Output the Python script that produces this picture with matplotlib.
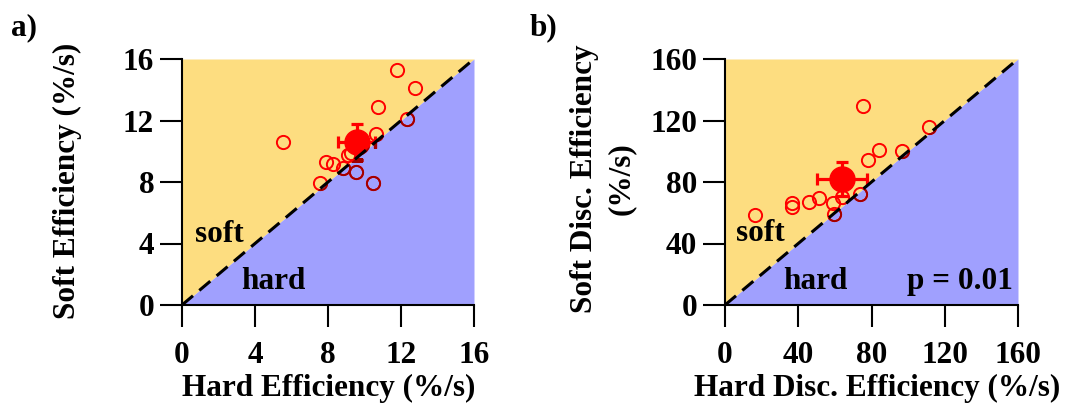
import matplotlib
matplotlib.use("Agg")
import matplotlib.pyplot as plt
from matplotlib.patches import Polygon

plt.rcParams['font.family'] = ['Liberation Serif', 'DejaVu Serif']
plt.rcParams['font.weight'] = 'bold'

# panel a: efficiency per subject (%/s)
hard_a = [11.76, 12.77, 10.72, 12.31, 5.52, 10.63, 9.11, 9.24, 7.87, 8.29, 8.84, 9.52, 7.56, 10.48]
soft_a = [15.28, 14.13, 12.86, 12.08, 10.58, 11.12, 9.76, 9.91, 9.28, 9.17, 8.89, 8.67, 7.91, 7.96]
mean_a = (9.57, 10.58)
err_a = (1.0, 1.17)
ticks_a = [0, 4, 8, 12, 16]

# panel b: discrimination efficiency per subject (%/s)
hard_b = [75.5, 111.6, 84.3, 96.5, 78.0, 16.4, 36.8, 36.8, 45.6, 51.4, 59.2, 59.7, 63.7, 73.7]
soft_b = [129.6, 116.0, 100.8, 100.4, 94.3, 58.5, 66.1, 63.9, 67.2, 69.8, 66.1, 59.0, 70.5, 72.0]
mean_b = (64.0, 81.7)
err_b = (13.7, 11.0)
ticks_b = [0, 40, 80, 120, 160]

YELLOW = '#FDDD80'
BLUE = '#A0A0FE'
RED = '#FF0000'
DARK = '#A00000'  # red seen through the blue region
FS = 22.5


def draw_panel(ax, hard, soft, mean, err, ticks):
  lim = ticks[-1]
  ax.fill_between([0, lim], [0, lim], lim, color=YELLOW, lw=0, zorder=0)
  ax.fill_between([0, lim], 0, [0, lim], color=BLUE, lw=0, zorder=0)

  for col in (RED, DARK):
    pts, = ax.plot(hard, soft, 'o', mfc='none', mec=col, ms=9.5, mew=1.4, zorder=2)
    eb = ax.errorbar(mean[0], mean[1], xerr=err[0], yerr=err[1], fmt='o',
                     color=col, ms=18, elinewidth=2.3, capsize=4.5,
                     capthick=2.3, zorder=3)
    if col == DARK:
      # only keep the darker copy below the diagonal
      tri = Polygon([(0, 0), (lim, 0), (lim, lim)], transform=ax.transData)
      for art in [pts, eb[0], *eb[1], *eb[2]]:
        art.set_clip_path(tri)

  ax.plot([0, lim], [0, lim], color='k', lw=2.2, ls='--', dashes=(4.7, 2.7),
          zorder=4)

  ax.set_xlim(0, lim)
  ax.set_ylim(0, lim)
  ax.set_xticks(ticks)
  ax.set_yticks(ticks)
  ax.spines['top'].set_visible(False)
  ax.spines['right'].set_visible(False)
  for s in ('left', 'bottom'):
    ax.spines[s].set_linewidth(1.5)
  ax.tick_params(direction='out', length=16, width=1.5, labelsize=FS)
  ax.tick_params(axis='x', pad=10)
  ax.tick_params(axis='y', pad=4)


fig = plt.figure(figsize=(10.83, 4.05), dpi=100)
W, H = 1083.0, 405.0

axA = fig.add_axes([182 / W, 1 - 305 / H, 292 / W, 246 / H])
axB = fig.add_axes([725 / W, 1 - 305 / H, 293 / W, 246 / H])

draw_panel(axA, hard_a, soft_a, mean_a, err_a, ticks_a)
draw_panel(axB, hard_b, soft_b, mean_b, err_b, ticks_b)

axA.text(2.03, 4.6, 'soft', fontsize=FS, ha='center', va='center', zorder=5)
axA.text(4.99, 1.5, 'hard', fontsize=FS, ha='center', va='center', zorder=5)
axB.text(19.1, 46.8, 'soft', fontsize=FS, ha='center', va='center', zorder=5)
axB.text(49.2, 15, 'hard', fontsize=FS, ha='center', va='center', zorder=5)
axB.text(128.5, 15, 'p = 0.01', fontsize=FS, ha='center', va='center', zorder=5)

# axis titles
fig.text(329 / W, 1 - 388 / H, 'Hard Efficiency (%/s)', fontsize=FS,
         ha='center', va='center')
fig.text(877 / W, 1 - 388 / H, 'Hard Disc. Efficiency (%/s)', fontsize=FS,
         ha='center', va='center')
fig.text(67 / W, 1 - 181 / H, 'Soft Efficiency (%/s)', fontsize=FS,
         rotation=90, ha='center', va='center')
fig.text(603 / W, 1 - 179 / H, 'Soft Disc. Efficiency\n(%/s)', fontsize=FS,
         rotation=90, ha='center', va='center', multialignment='center',
         linespacing=1.35)

fig.text(24 / W, 1 - 28 / H, 'a)', fontsize=FS, ha='center', va='center')
fig.text(543 / W, 1 - 28 / H, 'b)', fontsize=FS, ha='center', va='center')

fig.savefig('out.png', dpi=100)
